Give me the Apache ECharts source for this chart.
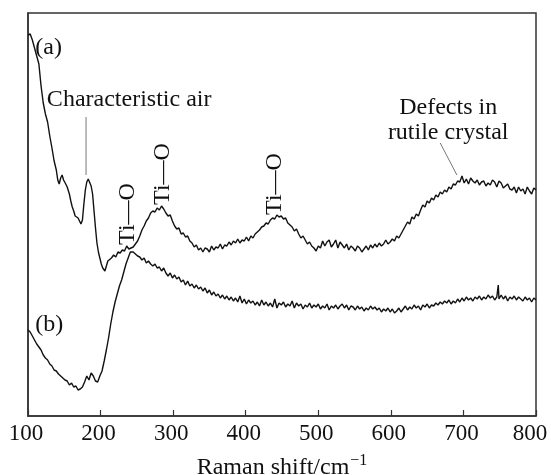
<!DOCTYPE html>
<html>
<head>
<meta charset="utf-8">
<title>Raman spectra</title>
<script src="https://cdn.jsdelivr.net/npm/echarts@6/dist/echarts.min.js"></script>
<style>
    html, body { margin: 0; padding: 0; background: #fff; }
    #main { width: 551px; height: 475px; }
</style>
</head>
<body>
<div id="main"></div>
<script>
    // x ticks (Raman shift, cm-1)
    var xTicks = [100, 200, 300, 400, 500, 600, 700, 800];

    // curve (a): [shift, intensity] (arbitrary units)
    var curveA = [
        [100, 381], [103, 382], [106, 376], [109, 368], [112, 360], [115, 352], [118, 330], [121, 313],
        [124, 302], [127, 294], [130, 280], [133, 268], [136, 255], [139, 246], [141, 236], [143, 232],
        [145, 238], [147, 241], [149, 236], [152, 232], [154, 229], [157, 222], [159, 215], [161, 209],
        [163, 205], [165, 200], [167, 199], [169, 198], [171, 196], [173, 192], [175, 196], [177, 212],
        [179, 226], [181, 234], [183, 237], [185, 236], [187, 230], [189, 222], [191, 205], [193, 188],
        [195, 173], [197, 164], [199, 158], [201, 152], [203, 148], [206, 145], [208, 150], [210, 155],
        [212, 154], [215, 158], [218, 161], [221, 159], [224, 164], [227, 163], [230, 166], [233, 165],
        [236, 170], [239, 167], [242, 168], [245, 169], [248, 172], [251, 175], [254, 180], [257, 186],
        [260, 190], [263, 195], [266, 198], [269, 203], [272, 205], [275, 204], [278, 208], [281, 206],
        [284, 210], [287, 207], [290, 203], [293, 200], [296, 201], [299, 195], [302, 190], [305, 187],
        [308, 188], [311, 182], [314, 183], [317, 179], [320, 180], [323, 175], [326, 173], [329, 169],
        [332, 171], [335, 166], [338, 168], [341, 164], [344, 168], [347, 167], [350, 164], [353, 170],
        [356, 166], [359, 169], [362, 168], [365, 172], [368, 167], [371, 171], [374, 170], [377, 174],
        [380, 171], [383, 175], [386, 173], [389, 177], [392, 173], [395, 176], [398, 175], [401, 179],
        [404, 175], [407, 180], [410, 178], [413, 182], [416, 184], [419, 186], [422, 189], [425, 190],
        [428, 193], [431, 192], [434, 196], [437, 198], [440, 197], [443, 201], [446, 199], [449, 200],
        [452, 197], [455, 198], [458, 193], [461, 191], [464, 189], [467, 185], [470, 187], [473, 182],
        [476, 178], [479, 180], [482, 176], [485, 172], [488, 174], [491, 170], [494, 168], [497, 165],
        [500, 170], [503, 168], [506, 175], [509, 170], [512, 174], [515, 176], [518, 169], [521, 172],
        [524, 176], [527, 168], [530, 174], [533, 171], [536, 168], [539, 172], [542, 166], [545, 170],
        [548, 168], [551, 165], [554, 170], [557, 168], [560, 164], [563, 167], [566, 170], [569, 166],
        [572, 171], [575, 168], [578, 172], [581, 169], [584, 173], [587, 170], [590, 172], [593, 176],
        [596, 172], [599, 174], [602, 177], [605, 175], [608, 180], [611, 178], [614, 182], [617, 186],
        [620, 190], [623, 194], [626, 192], [629, 199], [632, 197], [635, 202], [638, 200], [641, 206],
        [644, 211], [647, 209], [650, 215], [653, 213], [656, 218], [659, 216], [662, 221], [665, 219],
        [668, 224], [671, 222], [674, 226], [677, 224], [680, 229], [683, 227], [686, 232], [689, 231],
        [692, 235], [695, 234], [698, 240], [701, 233], [704, 237], [707, 232], [710, 238], [713, 235],
        [716, 233], [719, 236], [722, 231], [725, 234], [728, 235], [731, 230], [734, 233], [737, 231],
        [740, 236], [743, 234], [746, 229], [749, 235], [752, 233], [755, 228], [758, 230], [761, 232],
        [764, 227], [767, 226], [770, 229], [773, 223], [776, 229], [779, 225], [782, 227], [785, 222],
        [788, 229], [791, 225], [794, 222], [797, 228], [800, 226]
    ];

    // curve (b)
    var curveB = [
        [100, 86], [103, 84], [106, 80], [109, 76], [112, 72], [115, 69], [118, 66], [121, 61],
        [124, 58], [127, 56], [130, 52], [133, 50], [136, 46], [139, 45], [142, 42], [145, 40],
        [148, 38], [151, 36], [154, 35], [157, 31], [160, 33], [163, 29], [166, 30], [169, 26],
        [172, 27], [175, 29], [178, 34], [181, 40], [184, 36], [187, 43], [190, 40], [193, 35],
        [196, 34], [199, 40], [202, 45], [205, 55], [208, 66], [211, 78], [214, 92], [217, 104],
        [220, 114], [223, 122], [226, 130], [229, 136], [232, 144], [235, 152], [238, 158], [241, 164],
        [243, 166], [245, 164], [248, 162], [251, 160], [254, 159], [257, 156], [260, 158], [263, 153],
        [266, 155], [269, 152], [272, 150], [275, 152], [278, 148], [281, 149], [284, 145], [287, 148],
        [290, 143], [293, 140], [296, 143], [299, 138], [302, 141], [305, 137], [308, 139], [311, 134],
        [314, 136], [317, 131], [320, 135], [323, 130], [326, 132], [329, 128], [332, 131], [335, 127],
        [338, 129], [341, 125], [344, 128], [347, 123], [350, 126], [353, 121], [356, 124], [359, 120],
        [362, 122], [365, 118], [368, 121], [371, 117], [374, 120], [377, 116], [380, 119], [383, 115],
        [386, 118], [389, 114], [392, 120], [395, 113], [398, 117], [401, 112], [404, 116], [407, 113],
        [410, 115], [413, 111], [416, 114], [419, 110], [422, 116], [425, 111], [428, 114], [431, 110],
        [434, 113], [437, 109], [440, 117], [443, 108], [446, 113], [449, 111], [452, 114], [455, 109],
        [458, 112], [461, 110], [464, 115], [467, 108], [470, 113], [473, 110], [476, 112], [479, 107],
        [482, 111], [485, 109], [488, 113], [491, 108], [494, 111], [497, 109], [500, 112], [503, 107],
        [506, 110], [509, 108], [512, 112], [515, 106], [518, 110], [521, 108], [524, 111], [527, 107],
        [530, 110], [533, 112], [536, 108], [539, 111], [542, 106], [545, 110], [548, 109], [551, 106],
        [554, 110], [557, 107], [560, 109], [563, 105], [566, 108], [569, 106], [572, 110], [575, 107],
        [578, 109], [581, 106], [584, 108], [587, 104], [590, 107], [593, 105], [596, 108], [599, 104],
        [602, 107], [605, 103], [608, 105], [611, 108], [614, 104], [617, 107], [620, 110], [623, 106],
        [626, 109], [629, 107], [632, 111], [635, 108], [638, 110], [641, 106], [644, 111], [647, 109],
        [650, 112], [653, 108], [656, 111], [659, 110], [662, 113], [665, 111], [668, 114], [671, 112],
        [674, 115], [677, 113], [680, 116], [683, 112], [686, 115], [689, 113], [692, 117], [695, 114],
        [698, 118], [701, 115], [704, 119], [707, 116], [710, 118], [713, 115], [716, 119], [719, 117],
        [722, 120], [725, 116], [728, 119], [731, 117], [734, 121], [737, 118], [740, 120], [743, 116],
        [746, 119], [748, 131], [749, 117], [752, 121], [755, 117], [758, 120], [761, 115], [764, 119],
        [767, 117], [770, 120], [773, 116], [776, 119], [779, 117], [782, 115], [785, 119], [788, 116],
        [791, 118], [794, 114], [797, 118], [800, 116]
    ];

    var serif = '"Liberation Serif", "DejaVu Serif", serif';
    var ink = '#111';

    var chart = echarts.init(document.getElementById('main'));

    var option = {
        animation: false,
        grid: {
            left: 28,
            right: 15,
            top: 13,
            bottom: 59,
            outerBoundsMode: 'none',   // keep the frame where it is, labels may hang over
            show: true,
            borderColor: '#333',
            borderWidth: 1.5
        },
        xAxis: {
            type: 'value',
            min: xTicks[0],
            max: xTicks[xTicks.length - 1],
            interval: 100,
            axisLine: { lineStyle: { color: '#333', width: 1.5 } },
            axisTick: { inside: true, length: 6, lineStyle: { color: '#333', width: 1.2 } },
            axisLabel: {
                margin: 6,
                // last label sits a little left of its tick, like the original
                formatter: function (v) {
                    return v === xTicks[xTicks.length - 1] ? '{r|' + v + '}' : '{n|' + v + '}';
                },
                rich: {
                    n: { color: ink, fontFamily: serif, fontSize: 23, padding: [0, 4, 0, 0] },
                    r: { color: ink, fontFamily: serif, fontSize: 23, padding: [0, 12, 0, 0] }
                }
            },
            splitLine: { show: false },
            name: '{a|Raman shift/cm}{s|−1}',
            nameLocation: 'middle',
            nameGap: 37,
            nameTextStyle: {
                rich: {
                    a: { color: ink, fontFamily: serif, fontSize: 24 },
                    s: { color: ink, fontFamily: serif, fontSize: 16, padding: [0, 0, 13, 1] }
                }
            }
        },
        yAxis: {
            type: 'value',
            min: 0,
            max: 403,
            axisLine: { show: true, lineStyle: { color: '#333', width: 1.5 } },
            axisTick: { show: false },
            axisLabel: { show: false },
            splitLine: { show: false }
        },
        series: [
            {
                name: '(a)',
                type: 'line',
                data: curveA,
                showSymbol: false,
                lineStyle: { color: ink, width: 1.4 }
            },
            {
                name: '(b)',
                type: 'line',
                data: curveB,
                showSymbol: false,
                lineStyle: { color: ink, width: 1.4 }
            }
        ]
    };
    chart.setOption(option);

    // annotations placed in data coordinates
    function px(pt) {
        return chart.convertToPixel({ gridIndex: 0 }, pt);
    }
    function label(pt, text, align) {
        var p = px(pt);
        return {
            type: 'text',
            x: p[0],
            y: p[1],
            style: { text: text, fill: ink, font: '24px ' + serif, align: align || 'left', verticalAlign: 'middle' }
        };
    }
    function bond(pt) {
        var p = px(pt);
        return {
            type: 'text',
            x: p[0],
            y: p[1],
            rotation: Math.PI / 2,
            style: { text: 'Ti—O', fill: ink, font: '24px ' + serif, align: 'center', verticalAlign: 'middle' }
        };
    }
    function pointer(a, b) {
        var p1 = px(a), p2 = px(b);
        return {
            type: 'line',
            shape: { x1: p1[0], y1: p1[1], x2: p2[0], y2: p2[1] },
            style: { stroke: '#777', lineWidth: 1 }
        };
    }

    chart.setOption({
        graphic: [
            label([110, 368], '(a)'),
            label([110, 91], '(b)'),
            label([126, 316], 'Characteristic air'),
            pointer([180, 299], [180, 241]),
            bond([238, 202]),
            bond([286, 242]),
            bond([440, 232]),
            label([679, 308], 'Defects in', 'center'),
            label([679, 283], 'rutile crystal', 'center'),
            pointer([668, 273], [691, 241])
        ]
    });
</script>
</body>
</html>
